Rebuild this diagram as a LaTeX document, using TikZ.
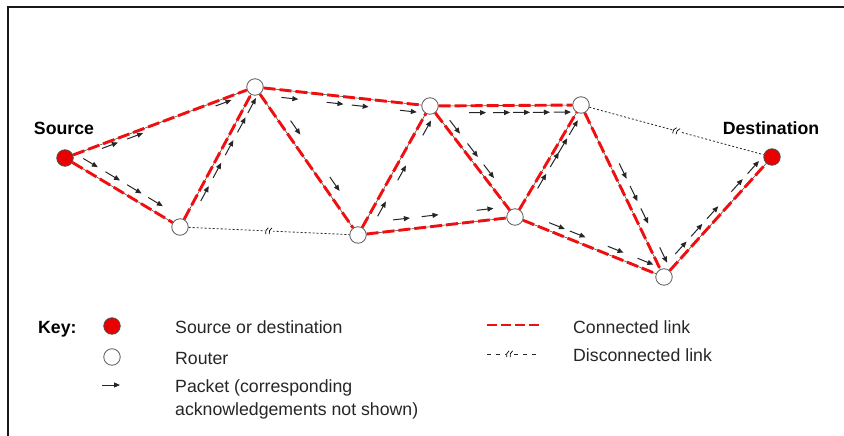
\documentclass[tikz,border=0pt]{standalone}
\usepackage{fontspec}
\setmainfont{Liberation Sans}
\usetikzlibrary{arrows.meta}

\definecolor{linkred}{RGB}{240,14,14}
\definecolor{endred}{RGB}{234,0,0}

\begin{document}
\begin{tikzpicture}[x=1pt,y=1pt,
  router/.style={circle, draw=black!65, line width=0.8pt, fill=white,
    minimum size=16.5pt, inner sep=0pt},
  endpoint/.style={router, fill=endred, draw=black!70},
  link/.style={draw=linkred, line width=2.9pt, dash pattern=on 12pt off 4pt,
    preaction={draw=black!70, line width=0.6pt, solid}},
  cut/.style={draw=black!85, line width=0.8pt, dash pattern=on 2pt off 2pt},
  packetarrow/.style={draw=black!85, line width=1pt,
    -{Triangle[length=6pt,width=5pt]}},
  endlabel/.style={font=\bfseries\fontsize{17.7}{21}\selectfont, inner sep=0pt},
  keytext/.style={font=\fontsize{17.7}{21}\selectfont, text=black!85,
    inner sep=0pt, anchor=base west},
  pics/packet/.style={code={\draw[packetarrow] (-8.5,#1) -- (8.5,#1);}},
  pics/linkbreak/.style={code={
    \fill[white] (-4,-3.2) rectangle (4,3.2);
    \draw[black, solid, line width=0.7pt] (-3.2,-3.2) to[bend left=35] (-0.8,3.2);
    \draw[black, solid, line width=0.7pt] (0.4,-3.2) to[bend left=35] (2.8,3.2);}},
  ]
\useasboundingbox (0,0) rectangle (844,-436);

% frame
\draw[line width=2pt, black!90] (8,-436) -- (8,-7) -- (844,-7);

% network nodes
\node[endpoint] (S)  at (65,-158)  {};
\node[router]   (R1) at (180,-227) {};
\node[router]   (R2) at (255,-87)  {};
\node[router]   (R3) at (358,-235) {};
\node[router]   (R4) at (430,-106) {};
\node[router]   (R5) at (515,-217) {};
\node[router]   (R6) at (581,-105) {};
\node[router]   (R7) at (664,-277) {};
\node[endpoint] (D)  at (772,-157) {};

\node[endlabel] (srclabel) at (64,-128)  {Source};
\node[endlabel] (dstlabel) at (771,-128) {Destination};

% connected links
\draw[link] (S)  -- (R2);
\draw[link] (S)  -- (R1);
\draw[link] (R1) -- (R2);
\draw[link] (R2) -- (R4);
\draw[link] (R2) -- (R3);
\draw[link] (R3) -- (R4);
\draw[link] (R3) -- (R5);
\draw[link] (R4) -- (R5);
\draw[link] (R4) -- (R6);
\draw[link] (R5) -- (R6);
\draw[link] (R5) -- (R7);
\draw[link] (R6) -- (R7);
\draw[link] (R7) -- (D);

% disconnected links
\draw[cut] (R1) -- (R3);
\path (R1) -- (R3) pic[pos=.5, sloped]{linkbreak};
\draw[cut] (R6) -- (D);
\path (R6) -- (D) pic[pos=.5, sloped]{linkbreak};

% packets travelling along the links
\path (S.center) -- (R2.center)
  pic[pos=.229, sloped]{packet=-4} pic[pos=.362, sloped]{packet=-4}
  pic[pos=.827, sloped]{packet=-4};
\path (S.center) -- (R1.center)
  pic[pos=.182, sloped]{packet=9} pic[pos=.375, sloped]{packet=9}
  pic[pos=.563, sloped]{packet=9} pic[pos=.747, sloped]{packet=9};
\path (R1.center) -- (R2.center)
  pic[pos=.259, sloped]{packet=-6} pic[pos=.425, sloped]{packet=-6}
  pic[pos=.587, sloped]{packet=-6} pic[pos=.750, sloped]{packet=-6}
  pic[pos=.888, sloped]{packet=-6};
\path (R2.center) -- (R4.center)
  pic[pos=.204, sloped]{packet=-7.5} pic[pos=.462, sloped]{packet=-7.5}
  pic[pos=.606, sloped]{packet=-7.5} pic[pos=.881, sloped]{packet=-7.5};
\path (R2.center) -- (R3.center)
  pic[pos=.313, sloped]{packet=10} pic[pos=.694, sloped]{packet=10};
\path (R3.center) -- (R4.center)
  pic[pos=.233, sloped]{packet=-8} pic[pos=.512, sloped]{packet=-8}
  pic[pos=.860, sloped]{packet=-8};
\path (R3.center) -- (R5.center)
  pic[pos=.285, sloped]{packet=11} pic[pos=.467, sloped]{packet=11}
  pic[pos=.817, sloped]{packet=11};
\path (R4.center) -- (R5.center)
  pic[pos=.227, sloped]{packet=7} pic[pos=.437, sloped]{packet=7}
  pic[pos=.627, sloped]{packet=7};
\path (R4.center) -- (R6.center)
  pic[pos=.315, sloped]{packet=-7} pic[pos=.474, sloped]{packet=-7}
  pic[pos=.606, sloped]{packet=-7} pic[pos=.738, sloped]{packet=-7}
  pic[pos=.877, sloped]{packet=-7};
\path (R5.center) -- (R6.center)
  pic[pos=.343, sloped]{packet=-5} pic[pos=.534, sloped]{packet=-5}
  pic[pos=.660, sloped]{packet=-5} pic[pos=.821, sloped]{packet=-5};
\path (R5.center) -- (R7.center)
  pic[pos=.263, sloped]{packet=7.5} pic[pos=.402, sloped]{packet=7.5}
  pic[pos=.657, sloped]{packet=7.5} pic[pos=.857, sloped]{packet=7.5};
\path (R6.center) -- (R7.center)
  pic[pos=.407, sloped]{packet=9} pic[pos=.538, sloped]{packet=9}
  pic[pos=.668, sloped]{packet=9} pic[pos=.895, sloped]{packet=9};
\path (R7.center) -- (D.center)
  pic[pos=.204, sloped]{packet=7} pic[pos=.351, sloped]{packet=7}
  pic[pos=.498, sloped]{packet=7} pic[pos=.724, sloped]{packet=7}
  pic[pos=.875, sloped]{packet=7};

% key
\node[endlabel, anchor=base west] (keyhead) at (38,-333) {Key:};
\node[endpoint] (keyend) at (112,-326) {};
\node[router] (keyrouter) at (112,-357) {};
\coordinate (pk0) at (102,-385);
\coordinate (pk1) at (120,-385);
\draw[packetarrow] (pk0) -- (pk1);
\node[keytext] (keyt1) at (175,-333) {Source or destination};
\node[keytext] (keyt2) at (175,-364) {Router};
\node[keytext] (keyt3) at (175,-392) {Packet (corresponding};
\node[keytext] (keyt4) at (175,-415) {acknowledgements not shown)};

\coordinate (cl0) at (487,-325);
\coordinate (cl1) at (539,-325);
\draw[draw=linkred, line width=2.9pt, dash pattern=on 10pt off 4pt] (cl0) -- (cl1);
\coordinate (dl0) at (487,-354);
\coordinate (dl1) at (539,-354);
\draw[cut, dash pattern=on 4pt off 5pt] (dl0) -- (dl1);
\path (dl0) -- (dl1) pic[pos=.44]{linkbreak};
\node[keytext] (keyt5) at (573,-333) {Connected link};
\node[keytext] (keyt6) at (573,-361) {Disconnected link};
\end{tikzpicture}
\end{document}
